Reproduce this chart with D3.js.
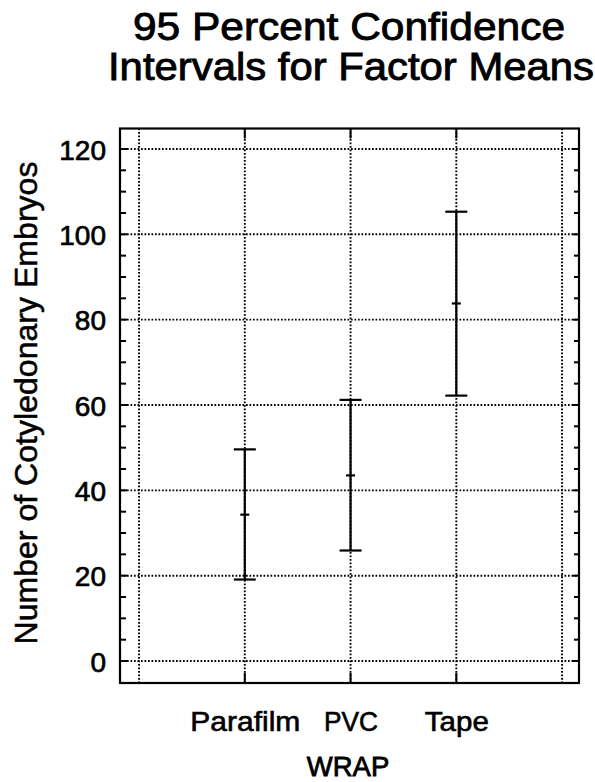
<!DOCTYPE html>
<html>
<head>
<meta charset="utf-8">
<script src="https://cdn.jsdelivr.net/npm/d3@7"></script>
<style>
  html, body { margin: 0; padding: 0; background: #fff; }
  svg { display: block; }
  text { font-family: "Liberation Sans", Arial, Helvetica, sans-serif; fill: #000; }
</style>
</head>
<body>
<div id="chart"></div>
<script>
// ---- data ----
const categories = ["Parafilm", "PVC", "Tape"];
const catPos = [1, 2, 3];
const lower = [19.1, 25.9, 62.2];
const means = [34.3, 43.5, 83.8];
const upper = [49.6, 61.2, 105.3];
const yTicks = [0, 20, 40, 60, 80, 100, 120];
const yMinor = [5,10,15,25,30,35,45,50,55,65,70,75,85,90,95,105,110,115];
const xGrid = [0, 1, 2, 3, 4];
const titleLines = ["95 Percent Confidence", "Intervals for Factor Means"];
const xTitle = "WRAP";
const yTitle = "Number of Cotyledonary Embryos";

const W = 595, H = 782;
const L = 120, R = 579, T = 128.5, B = 683;
const catLabelWidth = { "Parafilm": 110, "PVC": 54, "Tape": 64 };

const svg = d3.select("#chart").append("svg").attr("width", W).attr("height", H);
svg.append("rect").attr("width", W).attr("height", H).attr("fill", "#fff");

const x = d3.scaleLinear().domain([-0.18, 4.16]).range([L, R]);
const y = d3.scaleLinear().domain([-5.15, 124.8]).range([B, T]);

// grid
const grid = svg.append("g").attr("stroke", "#000").attr("stroke-width", 1.9)
  .attr("stroke-dasharray", "1.7,1.8").attr("fill", "none");
grid.selectAll(".gh").data(yTicks).join("line")
  .attr("x1", L).attr("x2", R).attr("y1", d => y(d)).attr("y2", d => y(d));
grid.selectAll(".gv").data(xGrid).join("line")
  .attr("y1", T).attr("y2", B).attr("x1", d => x(d)).attr("x2", d => x(d));

// left axis labels
const yAxis = svg.append("g").attr("transform", `translate(${L},0)`)
  .call(d3.axisLeft(y).tickValues(yTicks).tickSize(0).tickPadding(14));
yAxis.select(".domain").remove();
yAxis.selectAll("text").attr("font-size", 28).attr("dy", "0.36em")
  .attr("stroke", "#000").attr("stroke-width", 0.7)
  .style("font-family", "'Liberation Sans', Arial, sans-serif");

// inward ticks left and right
const ticks = svg.append("g").attr("stroke", "#000");
ticks.selectAll(".tl").data(yTicks).join("line").attr("stroke-width", 2)
  .attr("x1", L).attr("x2", L + 7).attr("y1", d => y(d)).attr("y2", d => y(d));
ticks.selectAll(".tlm").data(yMinor).join("line").attr("stroke-width", 2)
  .attr("x1", L).attr("x2", L + 6).attr("y1", d => y(d)).attr("y2", d => y(d));
ticks.selectAll(".tr").data(yTicks).join("line").attr("stroke-width", 2)
  .attr("x1", R).attr("x2", R - 6).attr("y1", d => y(d)).attr("y2", d => y(d));
ticks.selectAll(".trm").data(yMinor).join("line").attr("stroke-width", 2)
  .attr("x1", R).attr("x2", R - 5).attr("y1", d => y(d)).attr("y2", d => y(d));
ticks.selectAll(".tb").data(catPos).join("line").attr("stroke-width", 2)
  .attr("x1", d => x(d)).attr("x2", d => x(d)).attr("y1", B).attr("y2", B - 10);
ticks.selectAll(".tt").data(catPos).join("line").attr("stroke-width", 2)
  .attr("x1", d => x(d)).attr("x2", d => x(d)).attr("y1", T).attr("y2", T + 10);

// bottom axis labels
const xAxis = svg.append("g").attr("transform", `translate(0,${B})`)
  .call(d3.axisBottom(x).tickValues(catPos).tickSize(0).tickFormat((d, i) => categories[i]));
xAxis.select(".domain").remove();
xAxis.selectAll("text").attr("font-size", 27).attr("y", 48).attr("dy", 0)
  .attr("textLength", (d, i) => catLabelWidth[categories[i]])
  .attr("lengthAdjust", "spacingAndGlyphs")
  .attr("stroke", "#000").attr("stroke-width", 0.6)
  .style("font-family", "'Liberation Sans', Arial, sans-serif");

// frame
svg.append("rect").attr("x", L).attr("y", T).attr("width", R - L).attr("height", B - T)
  .attr("fill", "none").attr("stroke", "#000").attr("stroke-width", 2.2);

// error bars
const bars = svg.append("g").attr("stroke", "#000").attr("stroke-width", 2.2);
catPos.forEach((c, i) => {
  const cx = x(c);
  bars.append("line").attr("x1", cx).attr("x2", cx).attr("y1", y(lower[i])).attr("y2", y(upper[i]));
  bars.append("line").attr("x1", cx - 11).attr("x2", cx + 11).attr("y1", y(lower[i])).attr("y2", y(lower[i]));
  bars.append("line").attr("x1", cx - 11).attr("x2", cx + 11).attr("y1", y(upper[i])).attr("y2", y(upper[i]));
  bars.append("line").attr("x1", cx - 4.5).attr("x2", cx + 4.5).attr("y1", y(means[i])).attr("y2", y(means[i]));
});

// titles
svg.append("text").attr("x", 349).attr("y", 40).attr("text-anchor", "middle")
  .attr("font-size", 39).attr("textLength", 432).attr("lengthAdjust", "spacingAndGlyphs")
  .attr("stroke", "#000").attr("stroke-width", 0.9).text(titleLines[0]);
svg.append("text").attr("x", 351).attr("y", 80).attr("text-anchor", "middle")
  .attr("font-size", 39).attr("textLength", 486).attr("lengthAdjust", "spacingAndGlyphs")
  .attr("stroke", "#000").attr("stroke-width", 0.9).text(titleLines[1]);

svg.append("text").attr("x", 348).attr("y", 776).attr("text-anchor", "middle")
  .attr("font-size", 27.5).attr("stroke", "#000").attr("stroke-width", 0.8).text(xTitle);

svg.append("text").attr("transform", "translate(37,403) rotate(-90)").attr("text-anchor", "middle")
  .attr("font-size", 31).attr("textLength", 483).attr("lengthAdjust", "spacingAndGlyphs")
  .attr("stroke", "#000").attr("stroke-width", 0.5)
  .text(yTitle);
</script>
</body>
</html>
